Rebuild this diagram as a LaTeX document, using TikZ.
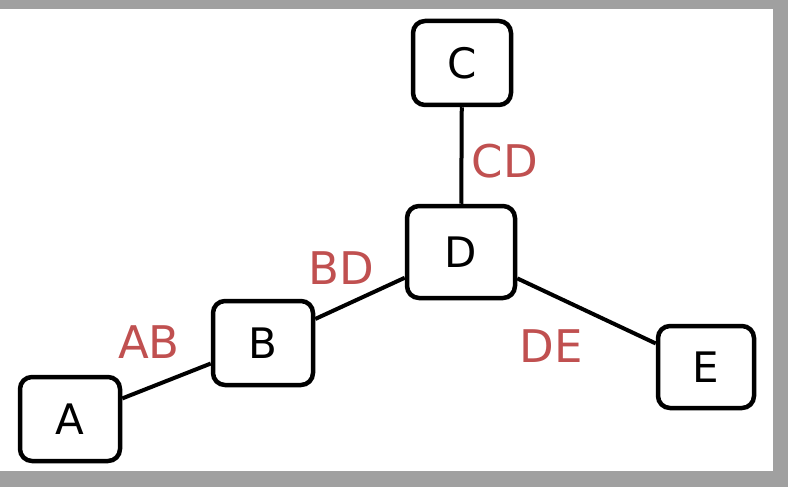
\documentclass[tikz,border=0pt]{standalone}
\usepackage{fontspec}
\setmainfont{DejaVu Sans}
\definecolor{framegray}{RGB}{160,160,160}
\definecolor{labelred}{RGB}{192,80,80}
\begin{document}
\begin{tikzpicture}[x=1pt,y=-1pt,
  box/.style={draw=black, line width=4.5pt, rounded corners=12pt, fill=white,
    minimum width=100pt, minimum height=84pt, inner sep=0pt, font=\fontsize{42}{42}\selectfont},
  lbl/.style={text=labelred, inner sep=0pt, font=\fontsize{45}{45}\selectfont},
  edge/.style={draw=black, line width=4pt}]
\fill[framegray] (0,0) rectangle (788,487);
\fill[white] (0,9) rectangle (773,471);
\useasboundingbox (0,0) rectangle (788,487);
\node[box] (A) at (70,419) {A};
\node[box] (B) at (263,343) {B};
\node[box, minimum width=98pt, minimum height=84pt] (C) at (462,63) {C};
\node[box, minimum width=108pt, minimum height=92pt] (D) at (461,252) {D};
\node[box, minimum width=96pt, minimum height=82pt] (E) at (706,367) {E};
\draw[edge] (A) -- (B);
\draw[edge] (B) -- (D);
\draw[edge] (C) -- (D);
\draw[edge] (D) -- (E);
\node[lbl] (lab) at (149,342) {AB};
\node[lbl] (lbd) at (341,268) {BD};
\node[lbl] (lcd) at (505,161) {CD};
\node[lbl] (lde) at (551,346) {DE};
\end{tikzpicture}
\end{document}
